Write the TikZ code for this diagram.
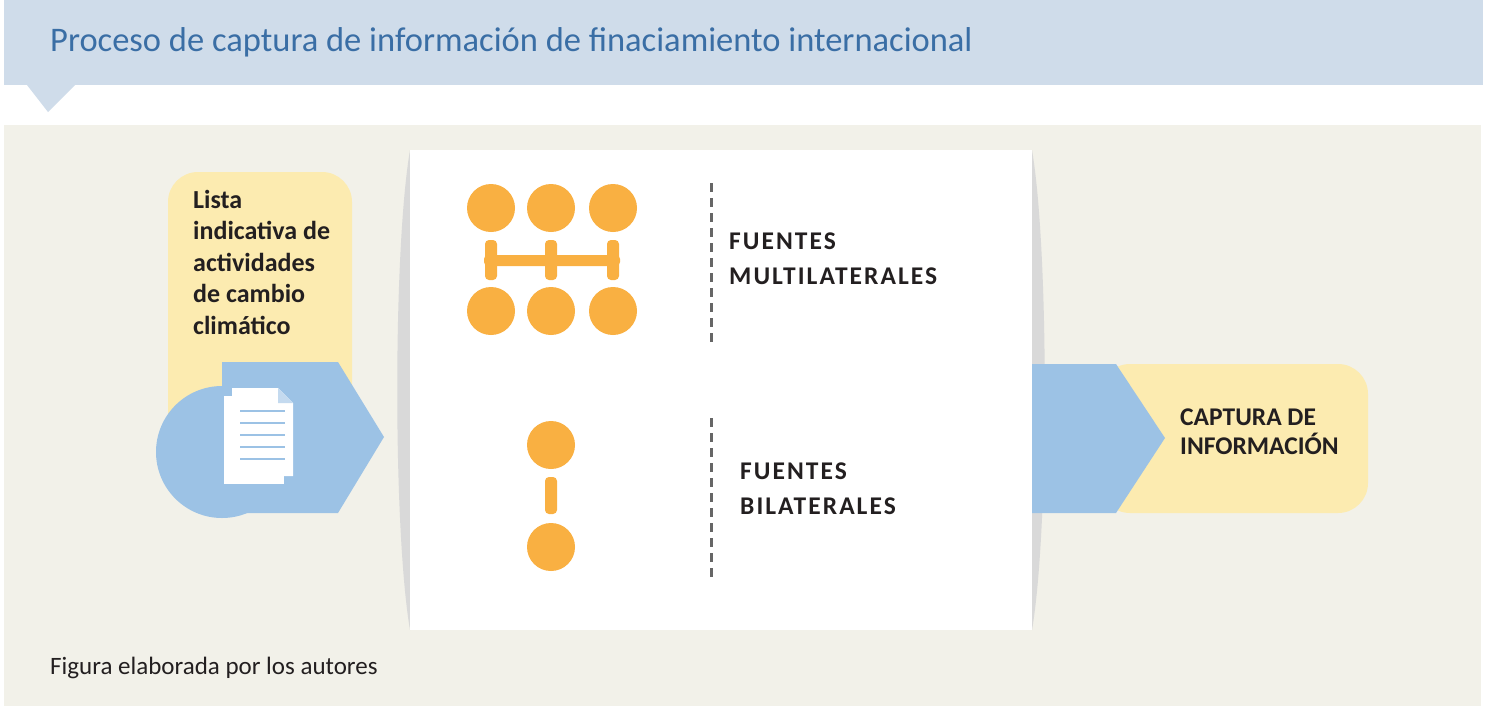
\documentclass[tikz,border=0pt]{standalone}
\usepackage{fontspec}
\setmainfont{Carlito}
\begin{document}
\begin{tikzpicture}[x=1pt,y=-1pt,
  lbl/.style={font=\bfseries\fontsize{24}{34}\selectfont,text=textc,align=left,anchor=west,inner sep=0pt},
  dashv/.style={draw=gray!80!black,line width=3pt,dash pattern=on 9pt off 6pt}]
\definecolor{headc}{HTML}{CFDCEA}
\definecolor{titlec}{HTML}{3A6EA5}
\definecolor{bgc}{HTML}{F2F1E9}
\definecolor{yelc}{HTML}{FCEBB0}
\definecolor{bluec}{HTML}{9CC2E5}
\definecolor{orangec}{HTML}{F9B042}
\definecolor{textc}{HTML}{231F20}
\useasboundingbox (0,0) rectangle (1487,710);
\fill[white] (0,0) rectangle (1487,710);
% header
\fill[headc] (4,0) rectangle (1483,85);
\fill[headc] (27,85) -- (75,85) -- (48,112) -- cycle;
\node[anchor=west,text=titlec,font=\fontsize{34.5}{40}\selectfont,inner sep=0pt] (title) at (50,42) {Proceso de captura de información de finaciamiento internacional};
% background
\fill[bgc] (4,125) rectangle (1481,706);
% panel shadows
\fill[gray!30] (410,150) .. controls (393,250) and (393,530) .. (410,630) -- cycle;
\fill[gray!30] (1032,150) .. controls (1049,250) and (1049,530) .. (1032,630) -- cycle;
\fill[white] (410,150) rectangle (1032,630);
% left yellow box
\fill[yelc,rounded corners=30pt] (168,172) rectangle (352,470);
\node[lbl,anchor=north west,font=\bfseries\fontsize{26}{31.5}\selectfont] (lista) at (193,190) {Lista\\indicativa de\\actividades\\de cambio\\climático};
% left blue
\fill[bluec] (222,452) circle (66);
\fill[bluec] (222,362) -- (338,362) -- (384,437) -- (338,513) -- (222,513) -- cycle;
% document icon
\fill[white] (224,396) rectangle (284,484);
\fill[white] (232,388) -- (278,388) -- (293,403) -- (293,476) -- (232,476) -- cycle;
\fill[bluec!60!white] (278,388) -- (278,403) -- (293,403) -- cycle;
\foreach \yy in {411,423,435,447,459}
  \draw[bluec,line width=2pt] (240,\yy) -- (285,\yy);
% right
\fill[yelc,rounded corners=30pt] (1100,364) rectangle (1368,513);
\fill[bluec] (1032,364) -- (1116,364) -- (1165,438) -- (1116,513) -- (1032,513) -- cycle;
\node[lbl,font=\bfseries\fontsize{25.5}{29}\selectfont] (cap) at (1180,432) {CAPTURA DE\\INFORMACIÓN};
% multilateral icon
\foreach \xx in {491,551,613}{
  \fill[orangec] (\xx,208) circle (24);
  \fill[orangec] (\xx,311) circle (24);
  \fill[orangec,rounded corners=4pt] (\xx-6,240) rectangle (\xx+6,280);
}
\fill[orangec,rounded corners=4pt] (484,255) rectangle (620,266);
% bilateral icon
\fill[orangec] (551,445) circle (24);
\fill[orangec] (551,547) circle (24);
\fill[orangec,rounded corners=4pt] (545,477) rectangle (557,514);
% dashed
\draw[dashv] (711,183) -- (711,343);
\draw[dashv] (711,418) -- (711,578);
\node[lbl,font=\bfseries\fontsize{25.5}{35}\selectfont] (multi) at (729,259) {\addfontfeature{LetterSpace=8}FUENTES\\\addfontfeature{LetterSpace=8}MULTILATERALES};
\node[lbl,font=\bfseries\fontsize{25.5}{35}\selectfont] (bi) at (740,489) {\addfontfeature{LetterSpace=8}FUENTES\\\addfontfeature{LetterSpace=8}BILATERALES};
\node[anchor=west,inner sep=0pt,text=textc,font=\fontsize{25}{29}\selectfont] (fig) at (50,668) {Figura elaborada por los autores};
\end{tikzpicture}
\end{document}
